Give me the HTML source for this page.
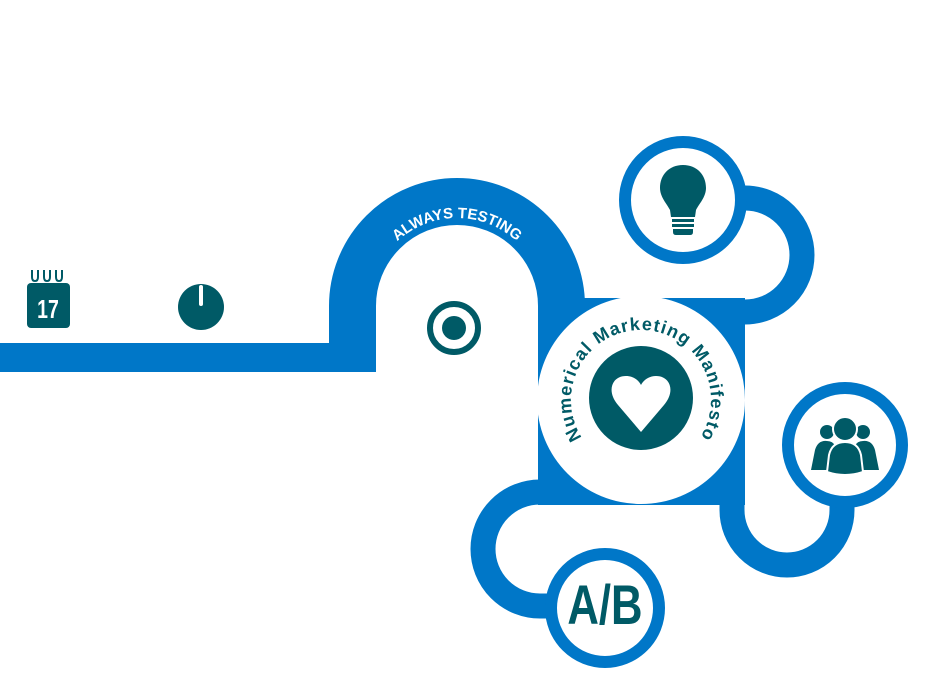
<!DOCTYPE html>
<html><head><meta charset="utf-8"><style>
html,body{margin:0;padding:0;background:#fff;width:931px;height:691px;overflow:hidden}
</style></head><body>
<svg width="931" height="691" viewBox="0 0 931 691" xmlns="http://www.w3.org/2000/svg">
<defs>
<path id="archT" d="M369,306 A88,88 0 0 1 545,306"/>
<path id="circT" d="M583.7,440.2 A70,70 0 1 1 698.3,440.2"/>
</defs>
<g fill="none" stroke="#0077c8">
<path d="M352.5,372 V306 A104.5,104.5 0 0 1 561.5,306 V320" stroke-width="47"/>
<path d="M700,198 H745 A57,57 0 0 1 745,312 H720" stroke-width="25"/>
<path d="M732,480 V510 A55,55 0 0 0 842,510 V480" stroke-width="25"/>
<path d="M570,492 H540 A57,57 0 0 0 540,606 H590" stroke-width="25"/>
</g>
<rect x="0" y="343" width="360" height="29" fill="#0077c8"/>
<rect x="538" y="298" width="207" height="207" fill="#0077c8"/>
<circle cx="641" cy="400" r="104" fill="#fff"/>
<circle cx="641" cy="398" r="52" fill="#005a66"/>
<path d="M641,432 L618,405 C606,391 612,376 626,376 C634,376 639,381 641,385 C643,381 648,376 656,376 C670,376 676,391 664,405 Z" fill="#fff"/>
<text font-family="Liberation Sans, sans-serif" font-weight="bold" font-size="18" fill="#005a66"><textPath href="#circT" startOffset="3" textLength="298" lengthAdjust="spacing">Numerical Marketing Manifesto</textPath></text>
<text font-family="Liberation Sans, sans-serif" font-weight="bold" font-size="15" fill="#fff"><textPath href="#archT" startOffset="50%" text-anchor="middle">ALWAYS TESTING</textPath></text>
<g fill="#fff" stroke="#0077c8" stroke-width="12">
<circle cx="683" cy="200" r="58"/>
<circle cx="845" cy="445" r="57"/>
<circle cx="605" cy="608" r="54"/>
</g>
<path d="M683,165 C669,165 660,175 660,188 C660,197 667,204 670,210 L671,217 L695,217 L696,210 C699,204 706,197 706,188 C706,175 697,165 683,165 Z" fill="#005a66"/>
<rect x="672" y="219" width="22" height="3" fill="#005a66"/>
<rect x="672" y="224" width="22" height="3" fill="#005a66"/>
<path d="M673,229 H693 V232 Q693,235 690,235 H676 Q673,235 673,232 Z" fill="#005a66"/>
<g fill="#005a66">
<circle cx="827" cy="432" r="7"/><circle cx="863" cy="432" r="7"/>
<path d="M811,470 L815,450 Q818,440 827,441 Q833,441 835,446 L832,470 Z"/>
<path d="M879,470 L875,450 Q872,440 863,441 Q857,441 855,446 L858,470 Z"/>
<circle cx="845" cy="429" r="12" stroke="#fff" stroke-width="2"/>
<path d="M827,472 L829,455 Q832,442 845,442 Q858,442 861,455 L863,472 Q845,478 827,472 Z" stroke="#fff" stroke-width="2"/>
</g>
<text transform="translate(605,624) scale(0.78,1)" text-anchor="middle" font-family="Liberation Sans, sans-serif" font-weight="bold" font-size="56" fill="#005a66">A/B</text>
<circle cx="454" cy="328" r="24" fill="none" stroke="#005a66" stroke-width="6"/>
<circle cx="454" cy="328" r="12" fill="#005a66"/>
<rect x="27" y="283" width="43" height="45" rx="4" fill="#005a66"/>
<g fill="none" stroke="#005a66" stroke-width="2">
<path d="M32,270 V277 Q32,281 35,281 Q38,281 38,277 V270"/>
<path d="M44,270 V277 Q44,281 47,281 Q50,281 50,277 V270"/>
<path d="M56,270 V277 Q56,281 59,281 Q62,281 62,277 V270"/>
</g>
<text transform="translate(48,318) scale(0.75,1)" text-anchor="middle" font-family="Liberation Sans, sans-serif" font-weight="bold" font-size="26" fill="#fff">17</text>
<circle cx="201" cy="307" r="23" fill="#005a66"/>
<rect x="199" y="285" width="4" height="21" rx="2" fill="#fff"/>
</svg>
</body></html>
